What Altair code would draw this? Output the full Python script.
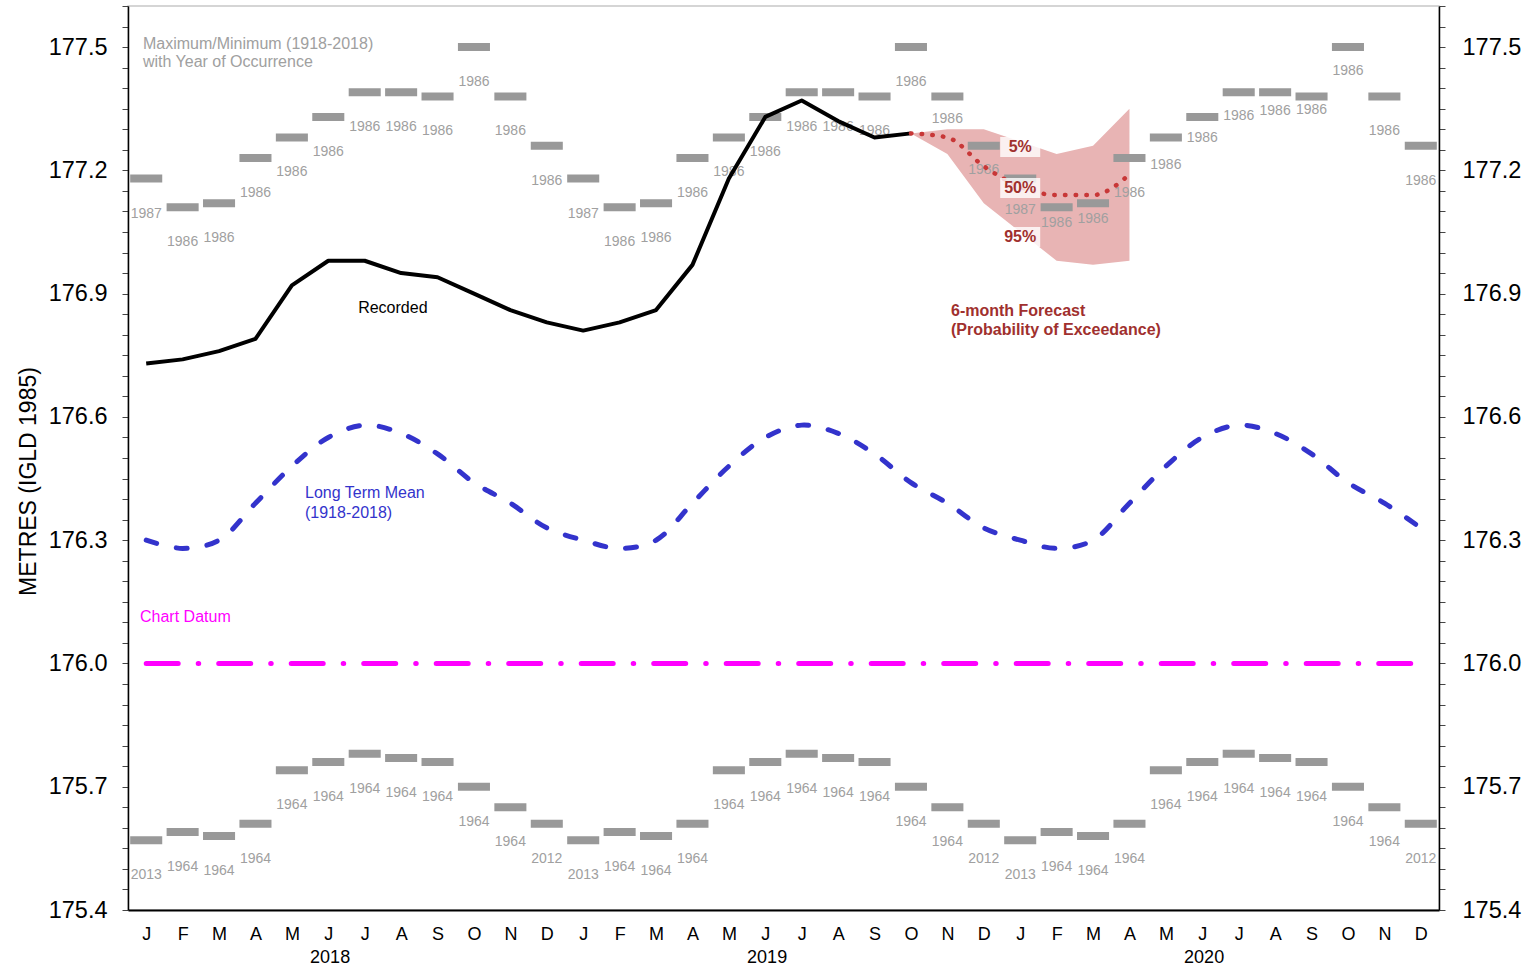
import altair as alt
import pandas as pd

# ---------------- data ----------------
month_letters = ["J", "F", "M", "A", "M", "J", "J", "A", "S", "O", "N", "D"]
years = ["2018", "2019", "2020"]

# Recorded monthly mean levels, Jan 2018 - Oct 2019
recorded = [176.73, 176.74, 176.76, 176.79, 176.92, 176.98, 176.98, 176.95, 176.94,
            176.90, 176.86, 176.83, 176.81, 176.83, 176.86, 176.97, 177.18, 177.33,
            177.37, 177.32, 177.28, 177.29]

# Long term mean (1918-2018), Jan..Dec
long_term_mean = [176.30, 176.28, 176.30, 176.39, 176.48, 176.55, 176.58, 176.56,
                  176.51, 176.44, 176.39, 176.33]

# Maximum / minimum (1918-2018) with year of occurrence, Jan..Dec
max_levels = [177.18, 177.11, 177.12, 177.23, 177.28, 177.33, 177.39, 177.39, 177.38,
              177.50, 177.38, 177.26]
max_years = ["1987", "1986", "1986", "1986", "1986", "1986", "1986", "1986", "1986",
             "1986", "1986", "1986"]
min_levels = [175.57, 175.59, 175.58, 175.61, 175.74, 175.76, 175.78, 175.77, 175.76,
              175.70, 175.65, 175.61]
min_years = ["2013", "1964", "1964", "1964", "1964", "1964", "1964", "1964", "1964",
             "1964", "1964", "2012"]

# 6-month forecast, Oct 2019 - Apr 2020 (probability of exceedance)
forecast_start = 21
forecast_5 = [177.29, 177.30, 177.30, 177.27, 177.24, 177.26, 177.35]
forecast_50 = [177.29, 177.28, 177.21, 177.16, 177.14, 177.14, 177.19]
forecast_95 = [177.29, 177.24, 177.12, 177.05, 176.98, 176.97, 176.98]

chart_datum = 176.0
y_label_values = [175.4, 175.7, 176.0, 176.3, 176.6, 176.9, 177.2, 177.5]

# ---------------- tables ----------------
n_months = 12 * len(years)
stats = pd.DataFrame({
    "i": list(range(n_months)),
    "c": [i + 0.5 for i in range(n_months)],
    "x0": [i + 0.06 for i in range(n_months)],
    "x1": [i + 0.94 for i in range(n_months)],
    "mean": long_term_mean * len(years),
    "max": max_levels * len(years),
    "maxyr": max_years * len(years),
    "min": min_levels * len(years),
    "minyr": min_years * len(years),
})
# nudges of the max-year labels (pixels below the bar)
max_label_nudge = {22: 23, 23: 24, 24: 31, 25: 16, 26: 16, 28: 28, 29: 21,
                   30: 24, 31: 19, 32: 14, 33: 24}
stats["off"] = [max_label_nudge.get(i, 35) for i in range(n_months)]

rec = pd.DataFrame({"c": [i + 0.5 for i in range(len(recorded))], "v": recorded})
fc = pd.DataFrame({
    "c": [forecast_start + k + 0.5 for k in range(len(forecast_50))],
    "f5": forecast_5, "f50": forecast_50, "f95": forecast_95,
})
datum_df = pd.DataFrame({"x0": [0.5], "x1": [n_months - 0.5], "y": [chart_datum]})
year_df = pd.DataFrame({"c": [12 * k + 5.55 for k in range(len(years))], "t": years})

gray_notes = pd.DataFrame({"x": [0.41, 0.41], "y": [177.508, 177.464],
                           "t": ["Maximum/Minimum (1918-2018)", "with Year of Occurrence"]})
rec_note = pd.DataFrame({"x": [6.32], "y": [176.865], "t": ["Recorded"]})
mean_notes = pd.DataFrame({"x": [4.86, 4.86], "y": [176.415, 176.366],
                           "t": ["Long Term Mean", "(1918-2018)"]})
datum_note = pd.DataFrame({"x": [0.33], "y": [176.113], "t": ["Chart Datum"]})
fc_notes = pd.DataFrame({"x": [22.6, 22.6], "y": [176.858, 176.811],
                         "t": ["6-month Forecast", "(Probability of Exceedance)"]})
pct_notes = pd.DataFrame({"x": [24.5, 24.5, 24.5], "y": [177.257, 177.157, 177.038],
                          "t": ["5%", "50%", "95%"]})

# ---------------- scales / axes ----------------
xs = alt.Scale(domain=[0, n_months], nice=False, zero=False)
ys = alt.Scale(domain=[175.4, 177.6], nice=False, zero=False)
tick_vals = [round(175.4 + 0.05 * k, 2) for k in range(45)]
lbl_list = ",".join(str(v) for v in y_label_values)
y_label_expr = f"indexof([{lbl_list}], datum.value) >= 0 ? format(datum.value, '.1f') : ''"
month_arr = ",".join(f"'{m}'" for m in month_letters)
x_label_expr = f"[{month_arr}][floor(datum.value) % 12]"

FONT = "Liberation Sans"
BAR_GRAY = "#999999"
LBL_GRAY = "#a0a0a0"
DARK_RED = "#a0302e"


def X(field, **kw):
    return alt.X(field, type="quantitative", scale=xs, axis=None, **kw)


def Y(field, **kw):
    return alt.Y(field, type="quantitative", scale=ys, axis=None, **kw)


left_axis = alt.Axis(orient="left", values=tick_vals, labelExpr=y_label_expr,
                     tickSize=6, tickColor="#444444", tickWidth=1,
                     domainColor="black", domainWidth=1.5, grid=False,
                     labelFontSize=23.5, labelColor="black", labelPadding=15, labelFont=FONT,
                     title="METRES (IGLD 1985)", titleFontSize=23, titleFontWeight="normal",
                     titleFont=FONT, titleColor="black", titleAngle=270,
                     titleX=-100, titleY=475, titleAlign="center", titleBaseline="middle")
right_axis = alt.Axis(orient="right", values=tick_vals, labelExpr=y_label_expr,
                      tickSize=6, tickColor="#444444", tickWidth=1,
                      domainColor="black", domainWidth=1.5, grid=False,
                      labelFontSize=23.5, labelColor="black", labelPadding=17, labelFont=FONT,
                      title="")
bottom_axis = alt.Axis(orient="bottom", values=[i + 0.5 for i in range(n_months)],
                       labelExpr=x_label_expr, ticks=False, tickSize=0,
                       domainColor="black", domainWidth=2, grid=False,
                       labelFontSize=18, labelColor="black", labelPadding=15, labelFont=FONT,
                       title="")

# ---------------- layers ----------------
band = alt.Chart(fc).mark_area(color="#e8b4b4", opacity=1).encode(
    x=X("c"), y=Y("f95"), y2="f5")

datum_line = alt.Chart(datum_df).mark_rule(
    color="#ff00ff", strokeWidth=5, strokeDash=[32, 20, 0.5, 20], strokeCap="round"
).encode(x=X("x0"), x2="x1", y=Y("y"))

max_bars = alt.Chart(stats).mark_rule(color=BAR_GRAY, strokeWidth=8).encode(
    x=X("x0"), x2="x1", y=Y("max"))
min_bars = alt.Chart(stats).mark_rule(color=BAR_GRAY, strokeWidth=8).encode(
    x=X("x0"), x2="x1", y=Y("min"))

max_label_layers = []
for off in sorted(set(stats["off"])):
    max_label_layers.append(
        alt.Chart(stats).transform_filter(alt.datum.off == int(off)).mark_text(
            fontSize=14, color=LBL_GRAY, font=FONT, baseline="middle", dy=int(off)
        ).encode(x=X("c"), y=Y("max"), text="maxyr:N")
    )
min_labels = alt.Chart(stats).mark_text(
    fontSize=14, color=LBL_GRAY, font=FONT, baseline="middle", dy=35
).encode(x=X("c"), y=Y("min"), text="minyr:N")

mean_line = alt.Chart(stats).mark_line(
    color="#3333cc", strokeWidth=5, strokeDash=[11, 20], strokeCap="round",
    interpolate="catmull-rom"
).encode(x=X("c"),
         y=alt.Y("mean", type="quantitative", scale=ys, axis=right_axis))

rec_line = alt.Chart(rec).mark_line(color="black", strokeWidth=4, strokeJoin="round").encode(
    x=alt.X("c", type="quantitative", scale=xs, axis=bottom_axis),
    y=alt.Y("v", type="quantitative", scale=ys, axis=left_axis))

fc_line = alt.Chart(fc).mark_line(
    color="#c83737", strokeWidth=4.5, strokeDash=[0.5, 10.2], strokeCap="round",
    interpolate="monotone"
).encode(x=X("c"), y=Y("f50"))

pct_boxes = alt.Chart(pct_notes).mark_point(
    shape="M-1,-0.5L1,-0.5L1,0.5L-1,0.5Z", size=1600, filled=True,
    color="white", opacity=0.8, strokeWidth=0
).encode(x=X("x"), y=Y("y"))
pct_text = alt.Chart(pct_notes).mark_text(
    fontSize=16, fontWeight="bold", color=DARK_RED, font=FONT, baseline="middle"
).encode(x=X("x"), y=Y("y"), text="t:N")


def note(df, color, weight="normal"):
    return alt.Chart(df).mark_text(
        fontSize=16, color=color, font=FONT, align="left", baseline="middle",
        fontWeight=weight
    ).encode(x=X("x"), y=Y("y"), text="t:N")


year_labels = alt.Chart(year_df).mark_text(
    fontSize=18, color="black", font=FONT, baseline="middle"
).encode(x=X("c"), y=alt.value(952), text="t:N")

chart = alt.layer(
    band, datum_line, max_bars, min_bars, *max_label_layers, min_labels,
    mean_line, rec_line, fc_line, pct_boxes, pct_text,
    note(gray_notes, LBL_GRAY), note(rec_note, "black"), note(mean_notes, "#3333cc"),
    note(datum_note, "#ff00ff"), note(fc_notes, DARK_RED, "bold"), year_labels
).resolve_axis(x="independent", y="independent").properties(
    width=1311, height=904,
    autosize=alt.AutoSizeParams(type="none"),
    padding={"left": 128, "top": 6, "right": 100, "bottom": 59},
    background="white",
).configure(font=FONT).configure_view(stroke="#c8c8c8", strokeWidth=1.5)

chart.save("out.html", embed_options={"renderer": "svg", "actions": False})
